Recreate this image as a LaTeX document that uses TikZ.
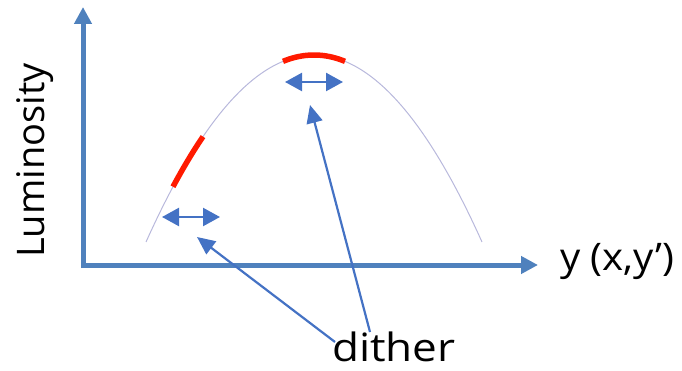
\documentclass[tikz,border=0pt]{standalone}
\usepackage{fontspec}
\setmainfont{Open Sans}
\newfontfamily\widefont[FakeStretch=1.13]{Open Sans}
\newfontfamily\midfont[FakeStretch=1.06]{Open Sans}
\usetikzlibrary{arrows.meta}
\definecolor{axisblue}{HTML}{4F81BD}
\definecolor{arrblue}{HTML}{4472C4}
\definecolor{curvecol}{HTML}{B8B8DC}
\definecolor{hotred}{HTML}{FF1A00}
\tikzset{
  axisline/.style={draw=axisblue, line width=5pt, -{Triangle[length=17pt,width=17pt]}},
  dithbar/.style={draw=arrblue, line width=2.4pt, {Triangle[length=17pt,width=18pt]}-{Triangle[length=17pt,width=18pt]}},
  pointer/.style={draw=arrblue, line width=2.2pt, -{Triangle[length=18pt,width=16pt]}},
  lbl/.style={inner sep=0pt},
  redseg/.style={draw=hotred, line width=5.5pt},
}
\begin{document}
\begin{tikzpicture}[x=1pt,y=-1pt]
\useasboundingbox (0,0) rectangle (682,371);
% axes
\coordinate (O) at (83,265);
\coordinate (ytip) at (83,7);
\coordinate (xtip) at (538,265);
\draw[axisline] (83,268) -- (ytip);
\draw[axisline] (81,265) -- (xtip);
% curve
\draw[curvecol, line width=1pt] plot[domain=146:482, samples=80] (\x, {55+187*((\x-314)/168)^2});
\draw[redseg] plot[domain=173:203, samples=20] (\x, {55+187*((\x-314)/168)^2});
\draw[redseg] plot[domain=283:345, samples=30] (\x, {55+187*((\x-314)/168)^2});
% dither double arrows
\coordinate (la) at (162,217);
\coordinate (lb) at (220,217);
\coordinate (ta) at (285,82);
\coordinate (tb) at (343,82);
\draw[dithbar] (la) -- (lb);
\draw[dithbar] (ta) -- (tb);
% labels
\node[lbl, font=\widefont\fontsize{39}{41}\selectfont, anchor=base west] (dither) at (332,361) {dither};
\node[lbl, font=\midfont\fontsize{38}{40}\selectfont, anchor=base west] (ylab) at (560,270) {y (x,y’)};
\node[lbl, font=\fontsize{38}{40}\selectfont, rotate=90, anchor=base west] (lum) at (44,258) {Luminosity};
% pointers
\coordinate (lp) at (197,237);
\coordinate (tp) at (310,105);
\coordinate (ls) at (335,342);
\coordinate (ts) at (370,332);
\draw[pointer] (ls) -- (lp);
\draw[pointer] (ts) -- (tp);
\end{tikzpicture}
\end{document}
